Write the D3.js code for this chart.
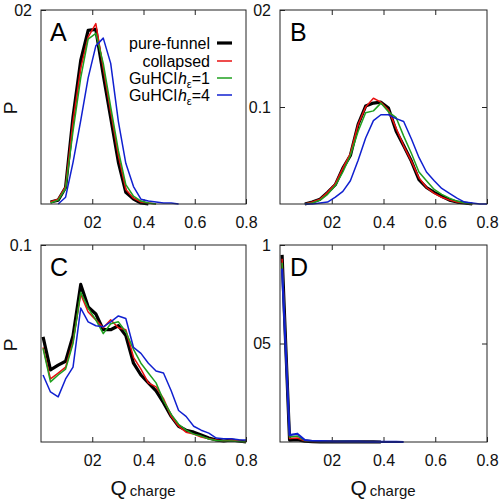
<!DOCTYPE html>
<html><head><meta charset="utf-8">
<script src="https://cdn.jsdelivr.net/npm/d3@7"></script>
<style>body{margin:0;background:#fff}svg{display:block}text{font-family:"Liberation Sans",Arial,sans-serif}</style>
</head><body><svg id="c" width="500" height="500"></svg>
<script>
// ---------- data ----------
const qCharge = [0.008,0.037,0.067,0.096,0.125,0.155,0.184,0.214,0.243,0.272,0.302,0.331,0.361,0.390,
                 0.419,0.449,0.478,0.508,0.537,0.566,0.596,0.625,0.655,0.684,0.713,0.743,0.772,0.800];
const seriesKeys = ["pure","collapsed","gu1","gu4"];
const xTickValues = [0.2,0.4,0.6,0.8];
const xTickLabels = ["02","0.4","0.6","0.8"];
const panelLetters = ["A","B","C","D"];
const yTicksA = [0.2], yTickLabelsA = ["02"];
const yTicksB = [0.1,0.2], yTickLabelsB = ["0.1","02"];
const yTicksC = [0.1], yTickLabelsC = ["0.1"];
const yTicksD = [0.5,1], yTickLabelsD = ["05","1"];
const yMax = [0.2,0.2,0.1,1];
const N = null;
// Panel A
const A_pure      = [N,0.002,0.004,0.017,0.090,0.148,0.179,0.180,0.133,0.089,0.043,0.012,0.005,0.001,0.000,N,N,N,N,N,N,N,N,N,N,N,N,N];
const A_collapsed = [N,0.002,0.005,0.018,0.085,0.140,0.172,0.186,0.140,0.095,0.050,0.015,0.006,0.002,0.001,0.000,N,N,N,N,N,N,N,N,N,N,N,N];
const A_gu1       = [N,0.001,0.004,0.016,0.075,0.130,0.170,0.176,0.145,0.100,0.055,0.020,0.008,0.003,0.001,0.000,N,N,N,N,N,N,N,N,N,N,N,N];
const A_gu4       = [N,N,0.000,0.007,0.043,0.086,0.130,0.163,0.171,0.145,0.085,0.042,0.018,0.005,0.003,0.002,0.001,0.001,0.000,N,N,N,N,N,N,N,N,N];
// Panel B
const B_pure      = [N,N,N,0.000,0.002,0.005,0.012,0.020,0.037,0.050,0.082,0.101,0.104,0.105,0.099,0.075,0.060,0.044,0.025,0.017,0.012,0.008,0.004,0.002,0.001,0.000,N,N];
const B_collapsed = [N,N,N,0.000,0.002,0.005,0.012,0.021,0.037,0.052,0.082,0.100,0.109,0.105,0.097,0.078,0.060,0.044,0.027,0.017,0.011,0.007,0.004,0.002,0.001,0.000,N,N];
const B_gu1       = [N,N,N,0.000,0.001,0.004,0.010,0.019,0.033,0.050,0.075,0.094,0.096,0.104,0.095,0.089,0.070,0.052,0.033,0.024,0.015,0.010,0.006,0.003,0.001,0.000,N,N];
const B_gu4       = [N,N,N,0.000,0.000,0.001,0.002,0.007,0.013,0.024,0.045,0.068,0.086,0.092,0.092,0.088,0.085,0.067,0.048,0.033,0.024,0.016,0.011,0.006,0.002,0.001,0.000,0.000];
// Panel C
const C_pure      = [0.0534,0.0366,0.039,0.041,0.054,0.080,0.0686,0.065,0.057,0.057,0.059,0.054,0.040,0.034,0.030,0.026,0.020,0.013,0.008,0.006,0.005,0.0035,0.002,0.001,0.0005,0.001,0.0005,0.000];
const C_collapsed = [0.048,0.032,0.035,0.038,0.051,0.075,0.066,0.062,0.058,0.062,0.058,0.057,0.043,0.037,0.030,0.028,0.022,0.013,0.008,0.005,0.004,0.0025,0.0017,0.001,0.0005,0.001,0.0005,0.000];
const C_gu1       = [0.0475,0.0305,0.034,0.037,0.050,0.076,0.068,0.062,0.055,0.060,0.061,0.056,0.047,0.040,0.035,0.030,0.021,0.014,0.009,0.006,0.004,0.003,0.0015,0.0008,0.0005,0.0005,0.0003,0.000];
const C_gu4       = [0.034,0.0254,0.0229,0.032,0.038,0.068,0.061,0.059,0.0585,0.061,0.064,0.0627,0.048,0.045,0.040,0.036,0.035,0.026,0.016,0.013,0.008,0.006,0.0045,0.002,0.0017,0.0017,0.0012,0.001];
// Panel D
const D_pure      = [0.95,0.010,0.012,0.004,0.002,0.001,0.001,0.001,0.001,0.001,0.001,0.001,0.001,0.000,N,N,N,N,N,N,N,N,N,N,N,N,N,N];
const D_collapsed = [0.93,0.018,0.020,0.006,0.003,0.002,0.002,0.002,0.001,0.001,0.001,0.001,0.001,0.001,0.000,N,N,N,N,N,N,N,N,N,N,N,N,N];
const D_gu1       = [0.91,0.025,0.030,0.008,0.004,0.003,0.002,0.002,0.002,0.001,0.001,0.001,0.001,0.001,0.000,N,N,N,N,N,N,N,N,N,N,N,N,N];
const D_gu4       = [0.88,0.035,0.042,0.010,0.005,0.004,0.003,0.002,0.002,0.002,0.002,0.001,0.001,0.001,0.001,0.001,0.000,N,N,N,N,N,N,N,N,N,N,N];

// ---------- layout ----------
const svg = d3.select("#c");
const styles = {
  pure:{color:"#000000",width:3.2},
  collapsed:{color:"#e81010",width:1.5},
  gu1:{color:"#1fa01f",width:1.5},
  gu4:{color:"#1020d0",width:1.5}
};
const panels = [
  {left:41, top:10, w:205, h:194, data:[A_pure,A_collapsed,A_gu1,A_gu4], yt:yTicksA, yl:yTickLabelsA},
  {left:280,top:10, w:207, h:194, data:[B_pure,B_collapsed,B_gu1,B_gu4], yt:yTicksB, yl:yTickLabelsB},
  {left:41, top:245,w:205, h:197, data:[C_pure,C_collapsed,C_gu1,C_gu4], yt:yTicksC, yl:yTickLabelsC},
  {left:280,top:245,w:207, h:197, data:[D_pure,D_collapsed,D_gu1,D_gu4], yt:yTicksD, yl:yTickLabelsD}
];

panels.forEach((p,i)=>{
  const g = svg.append("g").attr("transform",`translate(${p.left},${p.top})`);
  const x = d3.scaleLinear().domain([0,0.8]).range([0,p.w]);
  const y = d3.scaleLinear().domain([0,yMax[i]]).range([p.h,0]);

  const fmtX = d => xTickLabels[xTickValues.indexOf(d)];
  const fmtY = d => p.yl[p.yt.indexOf(d)];

  const ax = [
    g.append("g").attr("transform",`translate(0,${p.h})`).call(d3.axisBottom(x).tickValues(xTickValues).tickFormat(fmtX).tickSizeInner(-5).tickSizeOuter(0).tickPadding(13)),
    g.append("g").call(d3.axisTop(x).tickValues(xTickValues.slice(0,3)).tickFormat("").tickSizeInner(-5).tickSizeOuter(0)),
    g.append("g").call(d3.axisLeft(y).tickValues(p.yt).tickFormat(fmtY).tickSizeInner(-5).tickSizeOuter(0).tickPadding(9)),
    g.append("g").attr("transform",`translate(${p.w},0)`).call(d3.axisRight(y).tickValues(p.yt.filter(v=>v<yMax[i])).tickFormat("").tickSizeInner(-5).tickSizeOuter(0))
  ];
  ax.forEach(a=>{
    a.select(".domain").remove();
    a.selectAll("line").attr("stroke","#222");
    a.selectAll("text").attr("font-size",16).attr("fill","#111").attr("font-family","Liberation Sans, Arial, sans-serif");
  });

  const line = d3.line().defined(d=>d[1]!==null).x(d=>x(d[0])).y(d=>y(d[1]));
  p.data.forEach((arr,j)=>{
    const st = styles[seriesKeys[j]];
    g.append("path").datum(qCharge.map((q,k)=>[q,arr[k]]))
      .attr("d",line).attr("fill","none").attr("stroke",st.color)
      .attr("stroke-width", i===3 && j===3 ? 2.2 : st.width).attr("stroke-linejoin","round");
  });

  g.append("rect").attr("width",p.w).attr("height",p.h).attr("fill","none").attr("stroke","#222").attr("stroke-width",1);

  g.append("text").attr("x",i%2===0?9:10).attr("y",31).attr("font-size",25).attr("fill","#000").text(panelLetters[i]);
});

// y labels
[108,345].forEach(cy=>{
  svg.append("text").attr("transform",`translate(17,${cy}) rotate(-90)`).attr("text-anchor","middle")
    .attr("font-size",19).attr("fill","#111").text("P");
});
// x labels
[143,383].forEach(cx=>{
  const t = svg.append("text").attr("x",cx).attr("y",495).attr("text-anchor","middle").attr("fill","#111");
  t.append("tspan").attr("font-size",21).text("Q");
  t.append("tspan").attr("font-size",15).attr("dx",3).attr("dy",1).text("charge");
});

// legend in panel A
const legendLabels = [["pure-funnel"],["collapsed"],["GuHCl","h","ε","=1"],["GuHCl","h","ε","=4"]];
const legendY = [43,61,78,95];
legendLabels.forEach((lab,j)=>{
  const t = svg.append("text").attr("x",210).attr("y",legendY[j]).attr("dy","0.35em")
    .attr("text-anchor","end").attr("font-size",16).attr("fill","#000");
  if(lab.length===1){ t.text(lab[0]); }
  else {
    t.append("tspan").text(lab[0]);
    t.append("tspan").attr("font-style","italic").attr("dx",1).text(lab[1]);
    t.append("tspan").attr("font-size",11).attr("dy",4).text(lab[2]);
    t.append("tspan").attr("dy",-4).text(lab[3]);
  }
  const st = styles[seriesKeys[j]];
  svg.append("line").attr("x1",217).attr("x2",232).attr("y1",legendY[j]).attr("y2",legendY[j])
    .attr("stroke",st.color).attr("stroke-width",st.width);
});
</script></body></html>
